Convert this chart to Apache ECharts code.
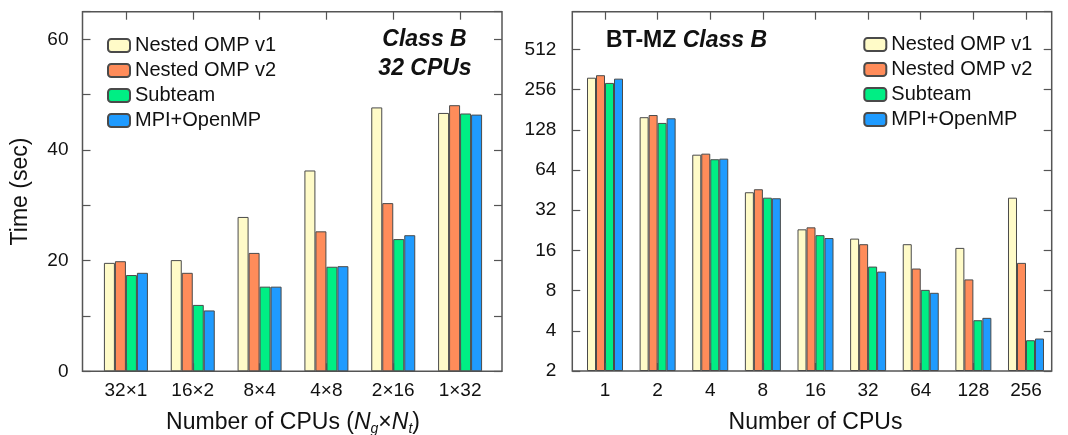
<!DOCTYPE html>
<html>
<head>
<meta charset="utf-8">
<script src="https://cdn.jsdelivr.net/npm/echarts@6/dist/echarts.min.js"></script>
<style>
  html, body { margin: 0; padding: 0; background: #fff; }
  #chart { width: 1068px; height: 435px; }
</style>
</head>
<body>
<div id="chart"></div>
<script>
// Series names shared by both panels
const seriesNames = ['Nested OMP v1', 'Nested OMP v2', 'Subteam', 'MPI+OpenMP'];
const seriesColors = ['#FFFBC8', '#FF8C5A', '#00EE84', '#1F9BFF'];

// Left panel: 32 CPUs split as groups x threads, time in seconds
const splitCategories = ['32×1', '16×2', '8×4', '4×8', '2×16', '1×32'];
const splitV1      = [19.6, 20.1, 27.9, 36.3, 47.7, 46.7];
const splitV2      = [19.9, 17.8, 21.4, 25.3, 30.4, 48.1];
const splitSubteam = [17.4, 12.0, 15.3, 18.9, 23.9, 46.6];
const splitMpi     = [17.8, 11.0, 15.3, 19.0, 24.6, 46.4];

// Right panel: BT-MZ Class B scaling, time in seconds (log2 axis)
const cpuCategories = ['1', '2', '4', '8', '16', '32', '64', '128', '256'];
const cpuV1      = [314, 159, 83.3, 43.6, 23.0, 19.6, 17.8, 16.7, 39.7];
const cpuV2      = [328, 165, 84.8, 45.9, 23.8, 17.8, 11.7, 9.7, 12.9];
const cpuSubteam = [287, 144, 77.0, 39.7, 20.8, 12.1, 8.1, 4.8, 3.4];
const cpuMpi     = [309, 156, 77.8, 39.3, 19.8, 11.1, 7.7, 5.0, 3.5];

// Axis tick values
const leftTicks = [0, 20, 40, 60];
const rightTicks = [2, 4, 8, 16, 32, 64, 128, 256, 512];

const FONT = 'Liberation Sans, Arial, Helvetica, sans-serif';
const FRAME = '#555';

const chart = echarts.init(document.getElementById('chart'), null, { renderer: 'canvas' });

function barSeries(name, data, color, xi, yi, width) {
  return {
    type: 'bar', name: name, data: data,
    xAxisIndex: xi, yAxisIndex: yi,
    barWidth: width, barGap: '0%',
    itemStyle: { color: color, borderColor: '#4a4a4a', borderWidth: 1 },
    emphasis: { disabled: true },
    z: 2
  };
}

const tickStyle = { show: true, inside: true, length: 8, lineStyle: { color: FRAME, width: 1.2 } };
const hiddenValueAxis = (gi) => ({ type: 'value', gridIndex: gi, show: false });

const leftData = [splitV1, splitV2, splitSubteam, splitMpi];
const rightData = [cpuV1, cpuV2, cpuSubteam, cpuMpi];

const legendBase = {
  data: seriesNames, orient: 'vertical', padding: 0,
  itemWidth: 22, itemHeight: 13, itemGap: 5,
  textStyle: { fontFamily: FONT, fontSize: 20, color: '#111' },
  selectedMode: false
};

const titleFont = 'italic bold 23px ' + FONT;

const option = {
  backgroundColor: '#fff',
  animation: false,
  textStyle: { fontFamily: FONT },
  graphic: [
    { type: 'text', x: 424.5, y: 39.5, z: 20,
      style: { text: 'Class B', font: titleFont, fill: '#111', textAlign: 'center', textVerticalAlign: 'middle' } },
    { type: 'text', x: 425, y: 68.5, z: 20,
      style: { text: '32 CPUs', font: titleFont, fill: '#111', textAlign: 'center', textVerticalAlign: 'middle' } },
    { type: 'text', x: 606, y: 41, z: 20,
      style: {
        text: '{a|BT-MZ }{b|Class B}', textAlign: 'left', textVerticalAlign: 'middle',
        rich: {
          a: { font: 'bold 23px ' + FONT, fill: '#111' },
          b: { font: titleFont, fill: '#111' }
        }
      } }
  ],
  legend: [
    Object.assign({ left: 107, top: 35.5 }, legendBase),
    Object.assign({ left: 863.3, top: 34.5 }, legendBase)
  ],
  grid: [
    { left: 82.5, top: 11.7, width: 419.5, height: 359.6, show: true, borderColor: FRAME, borderWidth: 1.5, backgroundColor: 'transparent', outerBoundsMode: 'none' },
    { left: 92.5, top: 11.7, width: 401, height: 359.6, outerBoundsMode: 'none' },
    { left: 572.3, top: 11.7, width: 479.4, height: 359.3, show: true, borderColor: FRAME, borderWidth: 1.5, backgroundColor: 'transparent', outerBoundsMode: 'none' },
    { left: 578.7, top: 11.7, width: 473.6, height: 359.3, outerBoundsMode: 'none' }
  ],
  xAxis: [
    hiddenValueAxis(0),
    {
      type: 'category', gridIndex: 1, position: 'bottom', data: splitCategories, z: 10,
      axisLine: { show: false },
      axisTick: Object.assign({ alignWithLabel: true }, tickStyle),
      axisLabel: { fontFamily: FONT, fontSize: 19, color: '#111', margin: 10 },
      name: '{t|Number of CPUs (}{i|N}{s|g}{t|×}{i|N}{s|t}{t|)}',
      nameLocation: 'middle', nameGap: 37,
      nameTextStyle: {
        rich: {
          t: { fontFamily: FONT, fontSize: 23, color: '#111', lineHeight: 28 },
          i: { fontFamily: FONT, fontSize: 23, fontStyle: 'italic', color: '#111', lineHeight: 28 },
          s: { fontFamily: FONT, fontSize: 14, fontStyle: 'italic', color: '#111', lineHeight: 14, verticalAlign: 'bottom' }
        }
      }
    },
    {
      type: 'category', gridIndex: 1, position: 'top', data: splitCategories,
      axisLine: { show: false },
      axisTick: Object.assign({ alignWithLabel: true }, tickStyle),
      axisLabel: { show: false }
    },
    hiddenValueAxis(2),
    {
      type: 'category', gridIndex: 3, position: 'bottom', data: cpuCategories, z: 10,
      axisLine: { show: false },
      axisTick: Object.assign({ alignWithLabel: true }, tickStyle),
      axisLabel: { fontFamily: FONT, fontSize: 19, color: '#111', margin: 10 },
      name: 'Number of CPUs', nameLocation: 'middle', nameGap: 40,
      nameTextStyle: { fontFamily: FONT, fontSize: 23, color: '#111' }
    },
    {
      type: 'category', gridIndex: 3, position: 'top', data: cpuCategories,
      axisLine: { show: false },
      axisTick: Object.assign({ alignWithLabel: true }, tickStyle),
      axisLabel: { show: false }
    }
  ],
  yAxis: [
    {
      type: 'value', gridIndex: 0, position: 'left', min: 0, max: 65, interval: 10,
      axisLine: { show: false }, splitLine: { show: false },
      axisTick: tickStyle,
      axisLabel: {
        fontFamily: FONT, fontSize: 19, color: '#111', margin: 14,
        formatter: (v) => leftTicks.includes(v) ? String(v) : ''
      },
      name: 'Time (sec)', nameLocation: 'middle', nameGap: 50, nameRotate: 90,
      nameTextStyle: { fontFamily: FONT, fontSize: 23, color: '#111' }
    },
    {
      type: 'value', gridIndex: 0, position: 'right', min: 0, max: 65, interval: 10,
      axisLine: { show: false }, splitLine: { show: false },
      axisTick: tickStyle, axisLabel: { show: false }
    },
    { type: 'value', gridIndex: 1, min: 0, max: 65, show: false, splitLine: { show: false } },
    {
      type: 'log', logBase: 2, gridIndex: 2, position: 'left', min: 2, max: 980,
      axisLine: { show: false }, splitLine: { show: false },
      axisTick: tickStyle,
      axisLabel: {
        fontFamily: FONT, fontSize: 19, color: '#111', margin: 16,
        formatter: (v) => {
          const r = Math.round(v);
          return rightTicks.includes(r) && Math.abs(v - r) < 1e-6 * r ? String(r) : '';
        }
      }
    },
    {
      type: 'log', logBase: 2, gridIndex: 2, position: 'right', min: 2, max: 980,
      axisLine: { show: false }, splitLine: { show: false },
      axisTick: tickStyle, axisLabel: { show: false }
    },
    { type: 'log', logBase: 2, gridIndex: 3, min: 2, max: 980, startValue: 2, show: false, splitLine: { show: false } }
  ],
  series: [
    ...seriesNames.map((n, i) => barSeries(n, leftData[i], seriesColors[i], 1, 2, 11)),
    ...seriesNames.map((n, i) => barSeries(n, rightData[i], seriesColors[i], 4, 5, 9))
  ]
};

chart.setOption(option);
</script>
</body>
</html>
